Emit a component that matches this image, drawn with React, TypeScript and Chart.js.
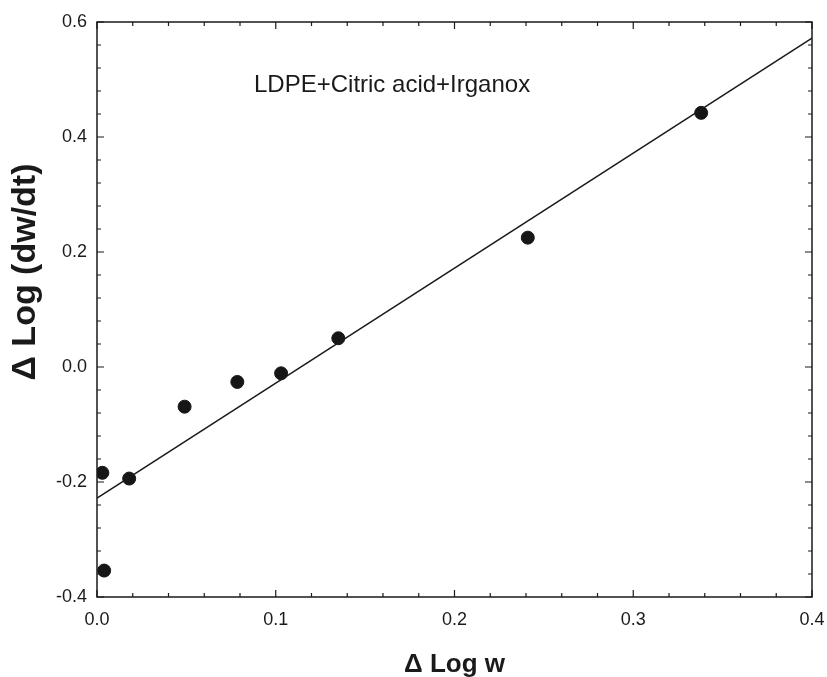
import React, { useEffect, useRef } from "react";
import { Chart, registerables } from "chart.js";

Chart.register(...registerables);

const deltaLogW = [0.003, 0.004, 0.018, 0.049, 0.0785, 0.103, 0.135, 0.241, 0.338];
const deltaLogRate = [-0.184, -0.354, -0.194, -0.069, -0.026, -0.011, 0.05, 0.225, 0.442];
const fitX = [0, 0.4];
const fitY = [-0.228, 0.572];
const xTickValues = [0, 0.1, 0.2, 0.3, 0.4];
const yTickValues = [-0.4, -0.2, 0, 0.2, 0.4, 0.6];
const xMinorStep = 0.02;
const yMinorStep = 0.04;
const xTitle = "\u0394 Log w";
const yTitle = "\u0394 Log (dw/dt)";
const annotation = "LDPE+Citric acid+Irganox";

const FONT = "'Liberation Sans', Arial, sans-serif";

const framePlugin = {
  id: "framePlugin",
  afterDraw(chart: any) {
    const { ctx, chartArea } = chart;
    const xs = chart.scales.x;
    const ys = chart.scales.y;
    const { left, right, top, bottom } = chartArea;
    ctx.save();
    ctx.strokeStyle = "#1a1a1a";
    ctx.lineWidth = 1.5;
    ctx.strokeRect(left, top, right - left, bottom - top);
    ctx.lineWidth = 1.2;
    const nx = Math.round((xs.max - xs.min) / xMinorStep);
    for (let i = 0; i <= nx; i++) {
      const v = xs.min + i * xMinorStep;
      const px = xs.getPixelForValue(v);
      const len = i % 5 === 0 ? 7 : 4;
      ctx.beginPath();
      ctx.moveTo(px, bottom);
      ctx.lineTo(px, bottom - len);
      ctx.moveTo(px, top);
      ctx.lineTo(px, top + len);
      ctx.stroke();
    }
    const ny = Math.round((ys.max - ys.min) / yMinorStep);
    for (let i = 0; i <= ny; i++) {
      const v = ys.min + i * yMinorStep;
      const py = ys.getPixelForValue(v);
      const len = i % 5 === 0 ? 7 : 4;
      ctx.beginPath();
      ctx.moveTo(left, py);
      ctx.lineTo(left + len, py);
      ctx.moveTo(right, py);
      ctx.lineTo(right - len, py);
      ctx.stroke();
    }
    ctx.fillStyle = "#1a1a1a";
    ctx.textAlign = "center";
    ctx.textBaseline = "middle";
    ctx.font = `bold 26px ${FONT}`;
    ctx.fillText(xTitle, (left + right) / 2, 665);
    ctx.save();
    ctx.translate(26, 272);
    ctx.rotate(-Math.PI / 2);
    ctx.font = `bold 34px ${FONT}`;
    ctx.fillText(yTitle, 0, 0);
    ctx.restore();
    ctx.font = `24px ${FONT}`;
    ctx.textAlign = "left";
    ctx.fillText(annotation, 254, 85);
    ctx.restore();
  },
};

export default function App() {
  const ref = useRef<HTMLCanvasElement>(null);
  useEffect(() => {
    document.body.style.margin = "0";
    const canvas = ref.current!;
    const chart = new Chart(canvas, {
      type: "scatter",
      data: {
        datasets: [
          {
            type: "line",
            data: fitX.map((x, i) => ({ x, y: fitY[i] })),
            borderColor: "#1a1a1a",
            borderWidth: 1.6,
            pointRadius: 0,
            fill: false,
          },
          {
            type: "scatter",
            data: deltaLogW.map((x, i) => ({ x, y: deltaLogRate[i] })),
            backgroundColor: "#161616",
            borderColor: "#161616",
            pointRadius: 6.5,
          },
        ],
      },
      options: {
        animation: false,
        responsive: false,
        layout: { padding: { left: 0, right: 15, top: 22, bottom: 0 } },
        plugins: { legend: { display: false }, tooltip: { enabled: false } },
        scales: {
          x: {
            type: "linear",
            min: 0,
            max: 0.4,
            grid: { display: false, drawTicks: false },
            border: { display: false },
            afterBuildTicks: (s: any) => {
              s.ticks = xTickValues.map((v) => ({ value: v }));
            },
            afterFit: (s: any) => {
              s.height = 80;
              s.paddingLeft = 0;
              s.paddingRight = 0;
            },
            ticks: {
              padding: 12,
              color: "#1a1a1a",
              font: { family: FONT, size: 18 },
              callback: (v: any) => Number(v).toFixed(1),
              maxRotation: 0,
            },
          },
          y: {
            type: "linear",
            min: -0.4,
            max: 0.6,
            grid: { display: false, drawTicks: false },
            border: { display: false },
            afterBuildTicks: (s: any) => {
              s.ticks = yTickValues.map((v) => ({ value: v }));
            },
            afterFit: (s: any) => {
              s.width = 97;
              s.paddingTop = 0;
              s.paddingBottom = 0;
            },
            ticks: {
              padding: 10,
              color: "#1a1a1a",
              font: { family: FONT, size: 18 },
              callback: (v: any) => Number(v).toFixed(1),
            },
          },
        },
      },
      plugins: [framePlugin],
    } as any);
    return () => chart.destroy();
  }, []);
  return (
    <div style={{ width: 827, height: 677, background: "#fff" }}>
      <canvas ref={ref} width={827} height={677} style={{ display: "block" }} />
    </div>
  );
}
